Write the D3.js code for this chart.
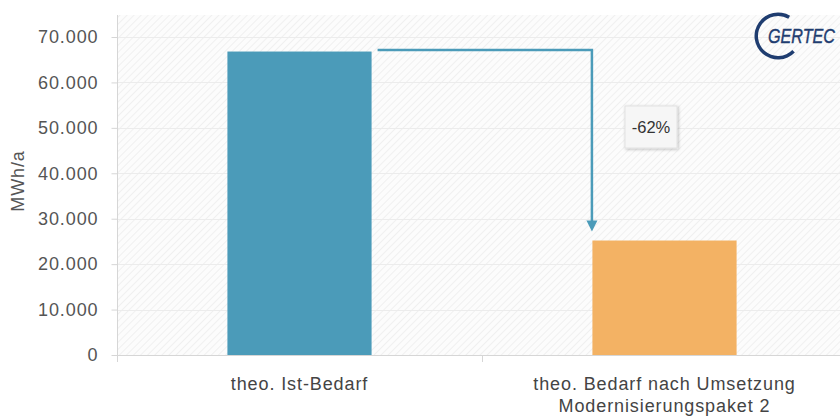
<!DOCTYPE html>
<html>
<head>
<meta charset="utf-8">
<script src="https://cdn.jsdelivr.net/npm/d3@7"></script>
<style>
  html, body { margin: 0; padding: 0; background: #ffffff; }
  svg { display: block; }
  text { font-family: "Liberation Sans", Arial, sans-serif; }
</style>
</head>
<body>
<script>
// Energy demand before and after the modernisation package (MWh/a)
const categories = [
  ["theo. Ist-Bedarf"],
  ["theo. Bedarf nach Umsetzung", "Modernisierungspaket 2"]
];
const demandValues = [66800, 25200];
const barColors = ["#4b9bb9", "#f3b264"];
const yTicks = [0, 10000, 20000, 30000, 40000, 50000, 60000, 70000];
const yAxisTitle = "MWh/a";
const changeLabel = "-62%";
const logoText = "GERTEC";

const width = 840, height = 419;
const margin = { top: 15, right: -7, bottom: 64, left: 117 };
const fontSize = 18;
const spacing = 0.9;

const svg = d3.select("body").append("svg")
  .attr("width", width).attr("height", height);

// diagonal hatch for the plot background
const defs = svg.append("defs");
const pat = defs.append("pattern")
  .attr("id", "hatch")
  .attr("patternUnits", "userSpaceOnUse")
  .attr("width", 5).attr("height", 5)
  .attr("patternTransform", "rotate(45)");
pat.append("rect").attr("width", 5).attr("height", 5).attr("fill", "#fcfcfc");
pat.append("line").attr("x1", 0).attr("y1", 0).attr("x2", 0).attr("y2", 5)
  .attr("stroke", "#f0f0f0").attr("stroke-width", 2);

const shadow = defs.append("filter").attr("id", "shadow")
  .attr("x", "-30%").attr("y", "-30%").attr("width", "160%").attr("height", "160%");
shadow.append("feDropShadow").attr("dx", 1).attr("dy", 1).attr("stdDeviation", 1.5)
  .attr("flood-color", "#000").attr("flood-opacity", 0.25);

const x0 = margin.left, x1 = width - margin.right;
const y0 = height - margin.bottom, y1 = margin.top;

const x = d3.scaleBand()
  .domain(d3.range(categories.length))
  .range([x0, x1])
  .paddingInner(0)
  .paddingOuter(0);
const barWidth = x.bandwidth() * 0.395;

// zero on the baseline, 70.000 at y = 37
const yMax = 74800;
const y = d3.scaleLinear().domain([0, yMax])
  .range([y0, y0 - (y0 - 37) * yMax / 70000]);

// plot background
svg.append("rect")
  .attr("x", x0).attr("y", y1)
  .attr("width", x1 - x0).attr("height", y0 - y1)
  .attr("fill", "url(#hatch)");

// horizontal grid
svg.append("g").selectAll("line")
  .data(yTicks.filter(d => d > 0))
  .join("line")
  .attr("x1", x0).attr("x2", x1)
  .attr("y1", d => Math.round(y(d)) + 0.5).attr("y2", d => Math.round(y(d)) + 0.5)
  .attr("stroke", "#ececec").attr("stroke-width", 1);

// y axis
const fmt = d => d3.format(",")(d).replace(/,/g, ".");
const yAxis = svg.append("g")
  .attr("transform", `translate(${x0 + 0.5},0)`)
  .call(d3.axisLeft(y).tickValues(yTicks).tickFormat(fmt).tickSize(6).tickSizeOuter(0).tickPadding(13));
yAxis.select(".domain").remove();
yAxis.selectAll(".tick line").attr("stroke", "#d6d6d6");
yAxis.selectAll(".tick text")
  .attr("fill", "#555").attr("font-size", fontSize).attr("letter-spacing", spacing);
svg.append("line")
  .attr("x1", x0 + 0.5).attr("x2", x0 + 0.5)
  .attr("y1", y1).attr("y2", y0 + 7)
  .attr("stroke", "#d6d6d6");

// y axis title
svg.append("text")
  .attr("transform", `translate(24,181) rotate(-90)`)
  .attr("text-anchor", "middle")
  .attr("fill", "#555").attr("font-size", fontSize).attr("letter-spacing", spacing)
  .text(yAxisTitle);

// bars
svg.append("g").selectAll("rect")
  .data(demandValues)
  .join("rect")
  .attr("x", (d, i) => x(i) + (x.bandwidth() - barWidth) / 2)
  .attr("width", barWidth)
  .attr("y", d => y(d))
  .attr("height", d => y(0) - y(d))
  .attr("fill", (d, i) => barColors[i]);

// x axis baseline and category divider
svg.append("line")
  .attr("x1", x0).attr("x2", x1)
  .attr("y1", y0 + 0.5).attr("y2", y0 + 0.5)
  .attr("stroke", "#d6d6d6");
svg.append("g").selectAll("line")
  .data(d3.range(1, categories.length))
  .join("line")
  .attr("x1", i => x(i) + 0.5).attr("x2", i => x(i) + 0.5)
  .attr("y1", y0).attr("y2", y0 + 7)
  .attr("stroke", "#d6d6d6");

// category labels
const labels = svg.append("g").selectAll("text")
  .data(categories)
  .join("text")
  .attr("text-anchor", "middle")
  .attr("fill", "#444").attr("font-size", fontSize).attr("letter-spacing", spacing)
  .attr("x", (d, i) => x(i) + x.bandwidth() / 2)
  .attr("y", y0 + 35);
labels.selectAll("tspan")
  .data(d => d)
  .join("tspan")
  .attr("x", function () { return d3.select(this.parentNode).attr("x"); })
  .attr("dy", (d, i) => i === 0 ? 0 : 22)
  .text(d => d);

// change arrow from the first bar's top down to the second bar
const barRight0 = x(0) + (x.bandwidth() + barWidth) / 2;
const barLeft1 = x(1) + (x.bandwidth() - barWidth) / 2;
const arrowY = y(demandValues[0]) - 1.5;
const arrowX = barLeft1 - 0.5;
const arrowEnd = y(demandValues[1]) - 9;
const arrowColor = "#4b9bb9";
svg.append("path")
  .attr("d", `M${barRight0 + 6},${arrowY} H${arrowX} V${arrowEnd - 9}`)
  .attr("fill", "none")
  .attr("stroke", arrowColor).attr("stroke-width", 2.5);
svg.append("path")
  .attr("d", `M${arrowX - 5.5},${arrowEnd - 11} L${arrowX + 5.5},${arrowEnd - 11} L${arrowX},${arrowEnd} Z`)
  .attr("fill", arrowColor);

// change label
const lblX = 651, lblY = 127;
svg.append("rect")
  .attr("x", lblX - 26).attr("y", lblY - 21)
  .attr("width", 52).attr("height", 42)
  .attr("fill", "#f6f6f6").attr("stroke", "#e2e2e2")
  .attr("filter", "url(#shadow)");
svg.append("text")
  .attr("x", lblX).attr("y", lblY + 6)
  .attr("text-anchor", "middle")
  .attr("fill", "#333").attr("font-size", 16.5)
  .text(changeLabel);

// logo: open ring with the company name
const logo = svg.append("g").attr("transform", "translate(778,36)");
logo.append("path")
  .attr("d", d3.arc().innerRadius(20).outerRadius(23.5)
    .startAngle(0.54).endAngle(-3.94)())
  .attr("fill", "#1f3d70");
logo.append("text")
  .attr("x", -10).attr("y", 7)
  .attr("fill", "#1f3d70").attr("font-size", 19.5).attr("font-style", "italic")
  .attr("stroke", "#1f3d70").attr("stroke-width", 0.4)
  .attr("textLength", 67).attr("lengthAdjust", "spacingAndGlyphs")
  .text(logoText);
</script>
</body>
</html>
